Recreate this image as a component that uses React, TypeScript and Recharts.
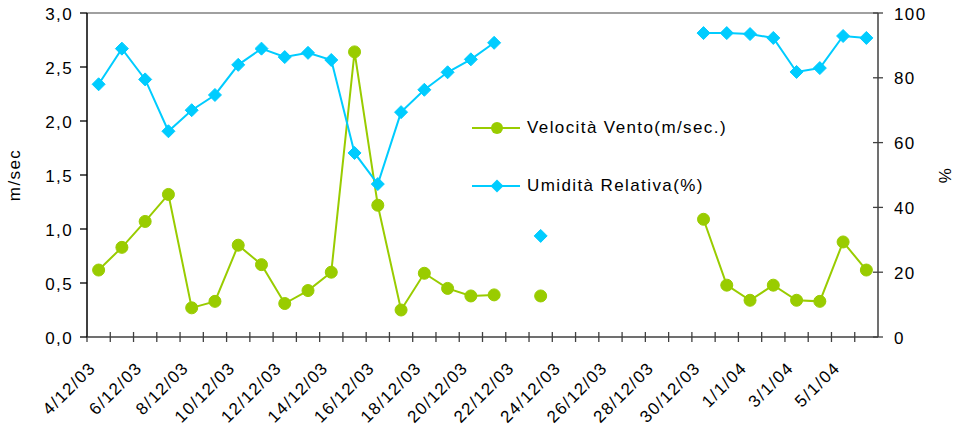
import React from 'react';
import { LineChart, Line, XAxis, YAxis, Legend, ReferenceLine } from 'recharts';

const dates = [
  '4/12/03', '5/12/03', '6/12/03', '7/12/03', '8/12/03', '9/12/03', '10/12/03', '11/12/03',
  '12/12/03', '13/12/03', '14/12/03', '15/12/03', '16/12/03', '17/12/03', '18/12/03', '19/12/03',
  '20/12/03', '21/12/03', '22/12/03', '23/12/03', '24/12/03', '25/12/03', '26/12/03', '27/12/03',
  '28/12/03', '29/12/03', '30/12/03', '31/12/03', '1/1/04', '2/1/04', '3/1/04', '4/1/04',
  '5/1/04', '6/1/04',
];

const windSpeed: (number | null)[] = [
  0.62, 0.83, 1.07, 1.32, 0.27, 0.33, 0.85, 0.67,
  0.31, 0.43, 0.6, 2.64, 1.22, 0.25, 0.59, 0.45,
  0.38, 0.39, null, 0.38, null, null, null, null,
  null, null, 1.09, 0.48, 0.34, 0.48, 0.34, 0.33,
  0.88, 0.62,
];

const humidity: (number | null)[] = [
  78, 89, 79.5, 63.5, 70, 74.7, 84, 89,
  86.4, 87.7, 85.5, 56.8, 47.2, 69.4, 76.3, 81.7,
  85.7, 90.8, null, 31.2, null, null, null, null,
  null, null, 93.8, 93.8, 93.5, 92.3, 81.8, 83,
  92.9, 92.3,
];

const leftTicks = [0, 0.5, 1, 1.5, 2, 2.5, 3];
const rightTicks = [0, 20, 40, 60, 80, 100];

const windName = 'Velocità Vento(m/sec.)';
const humName = 'Umidità Relativa(%)';

const GREEN = '#99CC00';
const CYAN = '#00CCFF';
const FONT = '"Liberation Sans", Arial, Helvetica, sans-serif';
const HALF_BAND = 11.63;

const data = dates.map((d, i) => ({ date: d, wind: windSpeed[i], hum: humidity[i] }));

const textStyle = { fontFamily: FONT, fontSize: 17, letterSpacing: 1.4, fill: '#000' } as const;

const XTick = (props: any) => {
  const { x, y, payload, index } = props;
  const bx = x - HALF_BAND;
  const ax = x - 2;
  const ay = y + 32;
  return (
    <g>
      <line x1={bx} x2={bx} y1={y - 5} y2={y + 5} stroke="#404040" strokeWidth={1.3} />
      {index % 2 === 0 ? (
        <text x={ax} y={ay} transform={`rotate(-45 ${ax} ${ay})`} textAnchor="end" style={textStyle}>
          {payload.value}
        </text>
      ) : null}
    </g>
  );
};

const LeftTick = (props: any) => {
  const { x, y, payload } = props;
  return (
    <g>
      <line x1={x - 7} x2={x} y1={y} y2={y} stroke="#000" strokeWidth={1.3} />
      <text x={x - 14} y={y + 1} textAnchor="end" dominantBaseline="central" style={textStyle}>
        {payload.value.toFixed(1).replace('.', ',')}
      </text>
    </g>
  );
};

const RightTick = (props: any) => {
  const { x, y, payload } = props;
  return (
    <g>
      <line x1={x - 5} x2={x + 5} y1={y} y2={y} stroke="#404040" strokeWidth={1.3} />
      <text x={x + 16} y={y + 1} textAnchor="start" dominantBaseline="central" style={textStyle}>
        {payload.value}
      </text>
    </g>
  );
};

const AxisTitle = (props: any) => {
  const { tx, ty, text } = props;
  return (
    <text
      x={tx}
      y={ty}
      transform={`rotate(-90 ${tx} ${ty})`}
      textAnchor="middle"
      dominantBaseline="central"
      style={textStyle}
    >
      {text}
    </text>
  );
};

const CircleDot = (props: any) => {
  const { cx, cy } = props;
  if (cx == null || cy == null) return <g />;
  return <circle cx={cx} cy={cy} r={6} fill={GREEN} stroke={GREEN} strokeWidth={1} />;
};

const DiamondDot = (props: any) => {
  const { cx, cy } = props;
  if (cx == null || cy == null) return <g />;
  const s = 6.5;
  return (
    <path
      d={`M${cx},${cy - s} L${cx + s},${cy} L${cx},${cy + s} L${cx - s},${cy} Z`}
      fill={CYAN}
      stroke={CYAN}
      strokeWidth={1}
    />
  );
};

const LegendContent = () => {
  const rows = [
    { name: windName, color: GREEN, shape: 'circle' },
    { name: humName, color: CYAN, shape: 'diamond' },
  ];
  return (
    <div style={{ fontFamily: FONT, fontSize: 17, letterSpacing: 1.4 }}>
      {rows.map((r, i) => (
        <div key={r.name} style={{ display: 'flex', alignItems: 'center', height: 26, marginTop: i === 0 ? 0 : 32 }}>
          <svg width={48} height={16} style={{ display: 'block' }}>
            <line x1={0} x2={48} y1={8} y2={8} stroke={r.color} strokeWidth={2} />
            {r.shape === 'circle' ? (
              <circle cx={25} cy={8} r={6} fill={r.color} />
            ) : (
              <path d="M25,1.5 L31.5,8 L25,14.5 L18.5,8 Z" fill={r.color} />
            )}
          </svg>
          <span style={{ marginLeft: 7, whiteSpace: 'nowrap', color: '#000' }}>{r.name}</span>
        </div>
      ))}
    </div>
  );
};

export default function App() {
  return (
    <div style={{ position: 'absolute', left: 0, top: 0, width: 955, height: 426, background: '#fff', fontFamily: FONT }}>
      <LineChart width={955} height={426} data={data} margin={{ top: 13, right: 0, bottom: 0, left: 0 }}>
        <XAxis
          dataKey="date"
          height={89}
          interval={0}
          padding={{ left: HALF_BAND, right: HALF_BAND }}
          tickSize={0}
          tickMargin={0}
          tickLine={false}
          axisLine={{ stroke: '#404040', strokeWidth: 1.5 }}
          tick={<XTick />}
        />
        <YAxis
          yAxisId="left"
          orientation="left"
          width={87}
          domain={[0, 3]}
          ticks={leftTicks}
          interval={0}
          tickSize={0}
          tickMargin={0}
          tickLine={false}
          axisLine={{ stroke: '#000', strokeWidth: 1.5 }}
          tick={<LeftTick />}
          label={<AxisTitle tx={14} ty={175} text="m/sec" />}
        />
        <YAxis
          yAxisId="right"
          orientation="right"
          width={77}
          domain={[0, 100]}
          ticks={rightTicks}
          interval={0}
          tickSize={0}
          tickMargin={0}
          tickLine={false}
          axisLine={{ stroke: '#404040', strokeWidth: 1.5 }}
          tick={<RightTick />}
          label={<AxisTitle tx={945} ty={175} text="%" />}
        />
        <ReferenceLine yAxisId="left" y={3} stroke="#808080" strokeWidth={1.5} />
        <Legend
          layout="vertical"
          align="center"
          verticalAlign="middle"
          content={<LegendContent />}
          wrapperStyle={{ position: 'absolute', left: 472, top: 115, width: 320, height: 90 }}
        />
        <Line
          yAxisId="left"
          type="linear"
          dataKey="wind"
          name={windName}
          stroke={GREEN}
          strokeWidth={2}
          dot={<CircleDot />}
          activeDot={false}
          connectNulls={false}
          isAnimationActive={false}
        />
        <Line
          yAxisId="right"
          type="linear"
          dataKey="hum"
          name={humName}
          stroke={CYAN}
          strokeWidth={2}
          dot={<DiamondDot />}
          activeDot={false}
          connectNulls={false}
          isAnimationActive={false}
        />
      </LineChart>
    </div>
  );
}
